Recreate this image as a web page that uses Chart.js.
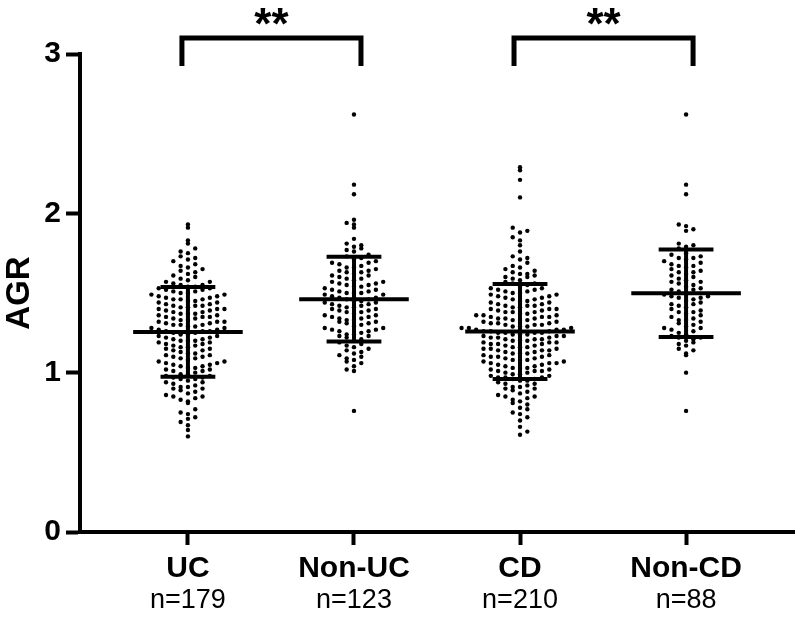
<!DOCTYPE html>
<html>
<head>
<meta charset="utf-8">
<script src="https://cdn.jsdelivr.net/npm/chart.js@4.4.1/dist/chart.umd.min.js"></script>
<style>
  html, body { margin: 0; padding: 0; background: #fff; }
</style>
</head>
<body>
<canvas id="agr-chart" width="800" height="618"></canvas>
<script>
// group names under the x axis
const categories = ['UC', 'Non-UC', 'CD', 'Non-CD'];

// AGR values per group
const ucValues = [
  1.93, 1.91, 1.83, 1.81, 1.78, 1.76, 1.75, 1.73, 1.72, 1.71, 1.70,
  1.68, 1.67, 1.66, 1.65, 1.64, 1.63, 1.62, 1.61, 1.60,
  1.59, 1.58, 1.57, 1.57, 1.56, 1.55, 1.55,
  1.54, 1.54, 1.53, 1.53, 1.52, 1.52, 1.51, 1.51, 1.50, 1.50,
  1.49, 1.49, 1.48, 1.48, 1.47, 1.47, 1.46, 1.46, 1.46, 1.45, 1.45,
  1.44, 1.44, 1.43, 1.43, 1.42, 1.42, 1.42, 1.41, 1.41, 1.40, 1.40, 1.40,
  1.39, 1.39, 1.38, 1.38, 1.37, 1.37, 1.37, 1.36, 1.36, 1.35, 1.35, 1.35,
  1.34, 1.34, 1.33, 1.33, 1.32, 1.32, 1.32, 1.31, 1.31, 1.30, 1.30, 1.30,
  1.29, 1.29, 1.28, 1.28, 1.27, 1.27, 1.26, 1.26, 1.26, 1.25, 1.25,
  1.24, 1.24, 1.23, 1.23, 1.22, 1.22, 1.21, 1.21, 1.20, 1.20, 1.20,
  1.19, 1.19, 1.18, 1.18, 1.17, 1.17, 1.16, 1.16, 1.15, 1.15,
  1.14, 1.14, 1.13, 1.12, 1.12, 1.11, 1.11, 1.10, 1.10,
  1.09, 1.09, 1.08, 1.07, 1.07, 1.06, 1.06, 1.05, 1.05,
  1.04, 1.04, 1.03, 1.03, 1.02, 1.02, 1.01, 1.01, 1.00,
  0.99, 0.99, 0.98, 0.98, 0.97, 0.97, 0.96, 0.96, 0.95,
  0.94, 0.94, 0.93, 0.92, 0.91, 0.91, 0.90, 0.90,
  0.89, 0.88, 0.87, 0.86, 0.85, 0.85,
  0.84, 0.83, 0.82, 0.81,
  0.77, 0.75, 0.74, 0.72, 0.71, 0.69, 0.67, 0.64, 0.60
];

const nonUcValues = [
  2.62, 2.18, 2.12, 1.96, 1.94, 1.93, 1.91, 1.84,
  1.81, 1.80, 1.79, 1.78, 1.77, 1.76, 1.74, 1.73, 1.72, 1.71,
  1.70, 1.69, 1.69, 1.68, 1.67, 1.66, 1.66,
  1.65, 1.64, 1.64, 1.63, 1.63, 1.62, 1.61, 1.61, 1.60,
  1.59, 1.59, 1.58, 1.57, 1.57, 1.56, 1.56, 1.55, 1.55,
  1.54, 1.54, 1.53, 1.52, 1.52, 1.51, 1.51, 1.50, 1.50, 1.50,
  1.49, 1.49, 1.48, 1.47, 1.47, 1.46, 1.46, 1.45, 1.45,
  1.44, 1.44, 1.43, 1.43, 1.42, 1.42, 1.41, 1.41, 1.40, 1.40,
  1.39, 1.39, 1.38, 1.38, 1.37, 1.36, 1.36, 1.35, 1.35,
  1.34, 1.34, 1.33, 1.33, 1.32, 1.32, 1.31, 1.31, 1.30,
  1.29, 1.28, 1.28, 1.27, 1.27, 1.26, 1.26, 1.25,
  1.24, 1.24, 1.23, 1.23, 1.22, 1.21, 1.20,
  1.19, 1.18, 1.17, 1.16, 1.15, 1.14, 1.13, 1.12, 1.11, 1.10,
  1.09, 1.08, 1.07, 1.06, 1.04, 1.02, 1.01, 0.76
];

const cdValues = [
  2.29, 2.27, 2.21, 2.10,
  1.91, 1.89, 1.88, 1.85, 1.83, 1.80,
  1.76, 1.73, 1.72, 1.71, 1.69, 1.67, 1.66, 1.65,
  1.64, 1.63, 1.62, 1.62, 1.61, 1.60, 1.60,
  1.59, 1.58, 1.57, 1.56, 1.56, 1.55,
  1.54, 1.53, 1.53, 1.52, 1.52, 1.51, 1.51, 1.50, 1.50,
  1.49, 1.49, 1.48, 1.48, 1.47, 1.47, 1.46, 1.46, 1.45, 1.45,
  1.44, 1.44, 1.43, 1.43, 1.42, 1.42, 1.42, 1.41, 1.41, 1.40, 1.40, 1.40,
  1.39, 1.39, 1.38, 1.38, 1.38, 1.37, 1.37, 1.36, 1.36, 1.36, 1.35, 1.35, 1.35,
  1.34, 1.34, 1.34, 1.33, 1.33, 1.33, 1.32, 1.32, 1.31, 1.31, 1.31, 1.30, 1.30, 1.30,
  1.29, 1.29, 1.29, 1.28, 1.28, 1.28, 1.27, 1.27, 1.27, 1.26, 1.26, 1.26, 1.25, 1.25, 1.25, 1.25,
  1.24, 1.24, 1.24, 1.23, 1.23, 1.23, 1.22, 1.22, 1.22, 1.21, 1.21, 1.21, 1.20, 1.20, 1.20,
  1.19, 1.19, 1.19, 1.18, 1.18, 1.18, 1.17, 1.17, 1.16, 1.16, 1.16, 1.15, 1.15, 1.15,
  1.14, 1.14, 1.14, 1.13, 1.13, 1.12, 1.12, 1.12, 1.11, 1.11, 1.10, 1.10, 1.10,
  1.09, 1.09, 1.08, 1.08, 1.08, 1.07, 1.07, 1.06, 1.06, 1.06, 1.05, 1.05,
  1.04, 1.04, 1.03, 1.03, 1.03, 1.02, 1.02, 1.01, 1.01, 1.01, 1.00, 1.00,
  0.99, 0.99, 0.98, 0.98, 0.97, 0.97, 0.97, 0.96, 0.96, 0.95, 0.95,
  0.94, 0.93, 0.93, 0.92, 0.91, 0.91, 0.90, 0.90,
  0.89, 0.88, 0.87, 0.86, 0.85, 0.85,
  0.84, 0.83, 0.82, 0.81, 0.80,
  0.78, 0.77, 0.75, 0.74, 0.72, 0.70, 0.66, 0.63, 0.61
];

const nonCdValues = [
  2.62, 2.18, 2.12, 1.93, 1.92, 1.90, 1.89,
  1.81, 1.80, 1.79, 1.78,
  1.75, 1.74, 1.73, 1.72, 1.72, 1.71, 1.70,
  1.69, 1.68, 1.67, 1.67, 1.66, 1.65,
  1.64, 1.63, 1.63, 1.62, 1.61, 1.60,
  1.59, 1.58, 1.57, 1.57, 1.56, 1.55,
  1.54, 1.53, 1.52, 1.52, 1.51, 1.50,
  1.49, 1.48, 1.48, 1.47, 1.47, 1.46, 1.45,
  1.44, 1.43, 1.43, 1.42, 1.41, 1.40,
  1.39, 1.38, 1.38, 1.37, 1.36, 1.35,
  1.34, 1.33, 1.33, 1.32, 1.31, 1.30,
  1.29, 1.28, 1.28, 1.27, 1.26, 1.25,
  1.24, 1.23, 1.22, 1.22, 1.21, 1.20,
  1.19, 1.18, 1.17, 1.15, 1.14, 1.12, 1.11, 1.00, 0.76
];

const yTicks = [0, 1, 2, 3];

// significance brackets: [from group, to group, label]
const comparisons = [[0, 1, '**'], [2, 3, '**']];

const groups = [ucValues, nonUcValues, cdValues, nonCdValues];

// layout constants (pixels / axis units), not data
const ROW_STEP = 0.042;   // y-bin height for the dot swarm
const COL_STEP = 0.044;   // x spacing of swarm columns (x units)
const MEAN_HALF = 0.33;
const SD_HALF = 0.165;
const FONT = '"Liberation Sans", Arial, sans-serif';

function mean(a) { return a.reduce((s, v) => s + v, 0) / a.length; }
function sd(a) {
  const m = mean(a);
  return Math.sqrt(a.reduce((s, v) => s + (v - m) * (v - m), 0) / (a.length - 1));
}

// Prism-like column scatter: bin by y, spread each bin sideways
function swarm(values, center) {
  const rows = {};
  const pts = [];
  values.slice().sort((a, b) => a - b).forEach(v => {
    const r = Math.round(v / ROW_STEP);
    const i = rows[r] = (rows[r] === undefined ? 0 : rows[r] + 1);
    const side = (r % 2 ? 1 : -1) * (i % 2 ? 1 : -1);
    const col = i === 0 ? 0 : Math.ceil(i / 2) * side;
    pts.push({ x: center + col * COL_STEP, y: v });
  });
  return pts;
}

const datasets = groups.map((vals, i) => ({
  label: categories[i],
  data: swarm(vals, i + 1),
  pointRadius: 2.2,
  pointHoverRadius: 2.2,
  pointBackgroundColor: '#000',
  pointBorderWidth: 0
}));

const overlayPlugin = {
  id: 'overlay',
  afterDatasetsDraw(chart) {
    const { ctx, scales: { x, y } } = chart;
    ctx.save();
    ctx.strokeStyle = '#000';
    ctx.fillStyle = '#000';
    ctx.lineCap = 'butt';

    const seg = (x1, y1, x2, y2) => {
      ctx.beginPath();
      ctx.moveTo(x1, y1);
      ctx.lineTo(x2, y2);
      ctx.stroke();
    };

    // mean and SD bars
    ctx.lineWidth = 4;
    groups.forEach((vals, i) => {
      const m = mean(vals), s = sd(vals);
      const c = i + 1;
      const cx = x.getPixelForValue(c);
      seg(x.getPixelForValue(c - MEAN_HALF), y.getPixelForValue(m), x.getPixelForValue(c + MEAN_HALF), y.getPixelForValue(m));
      seg(cx, y.getPixelForValue(m - s), cx, y.getPixelForValue(m + s));
      seg(x.getPixelForValue(c - SD_HALF), y.getPixelForValue(m + s), x.getPixelForValue(c + SD_HALF), y.getPixelForValue(m + s));
      seg(x.getPixelForValue(c - SD_HALF), y.getPixelForValue(m - s), x.getPixelForValue(c + SD_HALF), y.getPixelForValue(m - s));
    });

    // brackets with stars
    ctx.lineWidth = 5;
    ctx.lineJoin = 'miter';
    const top = y.getPixelForValue(3.10);
    const foot = y.getPixelForValue(2.925);
    comparisons.forEach(([a, b, label]) => {
      const x1 = x.getPixelForValue(a + 1) - 6;
      const x2 = x.getPixelForValue(b + 1) + 7;
      ctx.beginPath();
      ctx.moveTo(x1, foot);
      ctx.lineTo(x1, top);
      ctx.lineTo(x2, top);
      ctx.lineTo(x2, foot);
      ctx.stroke();
      ctx.font = 'bold 44px ' + FONT;
      ctx.textAlign = 'center';
      ctx.textBaseline = 'alphabetic';
      ctx.fillText(label, (x1 + x2) / 2, top + 1);
    });

    // category labels with n
    ctx.textAlign = 'center';
    ctx.textBaseline = 'middle';
    categories.forEach((name, i) => {
      const cx = x.getPixelForValue(i + 1);
      ctx.font = 'bold 30px ' + FONT;
      ctx.fillText(name, cx, 569);
      ctx.font = '27px ' + FONT;
      ctx.fillText('n=' + groups[i].length, cx, 601);
    });
    ctx.restore();
  }
};

new Chart(document.getElementById('agr-chart'), {
  type: 'scatter',
  data: { datasets },
  plugins: [overlayPlugin],
  options: {
    responsive: false,
    animation: false,
    devicePixelRatio: 1,
    layout: { padding: { top: 54, right: 6, left: 0, bottom: 0 } },
    plugins: { legend: { display: false }, tooltip: { enabled: false } },
    scales: {
      x: {
        type: 'linear',
        min: 0.35,
        max: 4.65,
        afterBuildTicks: s => { s.ticks = [1, 2, 3, 4].map(v => ({ value: v })); },
        afterFit: s => { s.height = 86; },
        ticks: { display: false },
        grid: { drawOnChartArea: false, drawTicks: true, tickLength: 13, tickWidth: 4, tickColor: '#000' },
        border: { display: true, width: 4, color: '#000' }
      },
      y: {
        min: 0,
        max: 3,
        afterBuildTicks: s => { s.ticks = yTicks.map(v => ({ value: v })); },
        afterFit: s => { s.width = 80; },
        ticks: {
          color: '#000',
          padding: 5,
          font: { family: FONT, size: 30, weight: 'bold' }
        },
        grid: { drawOnChartArea: false, drawTicks: true, tickLength: 14, tickWidth: 4, tickColor: '#000' },
        border: { display: true, width: 4, color: '#000' },
        title: {
          display: true,
          text: 'AGR',
          color: '#000',
          padding: 0,
          font: { family: FONT, size: 33, weight: 'bold' }
        }
      }
    }
  }
});
</script>
</body>
</html>
